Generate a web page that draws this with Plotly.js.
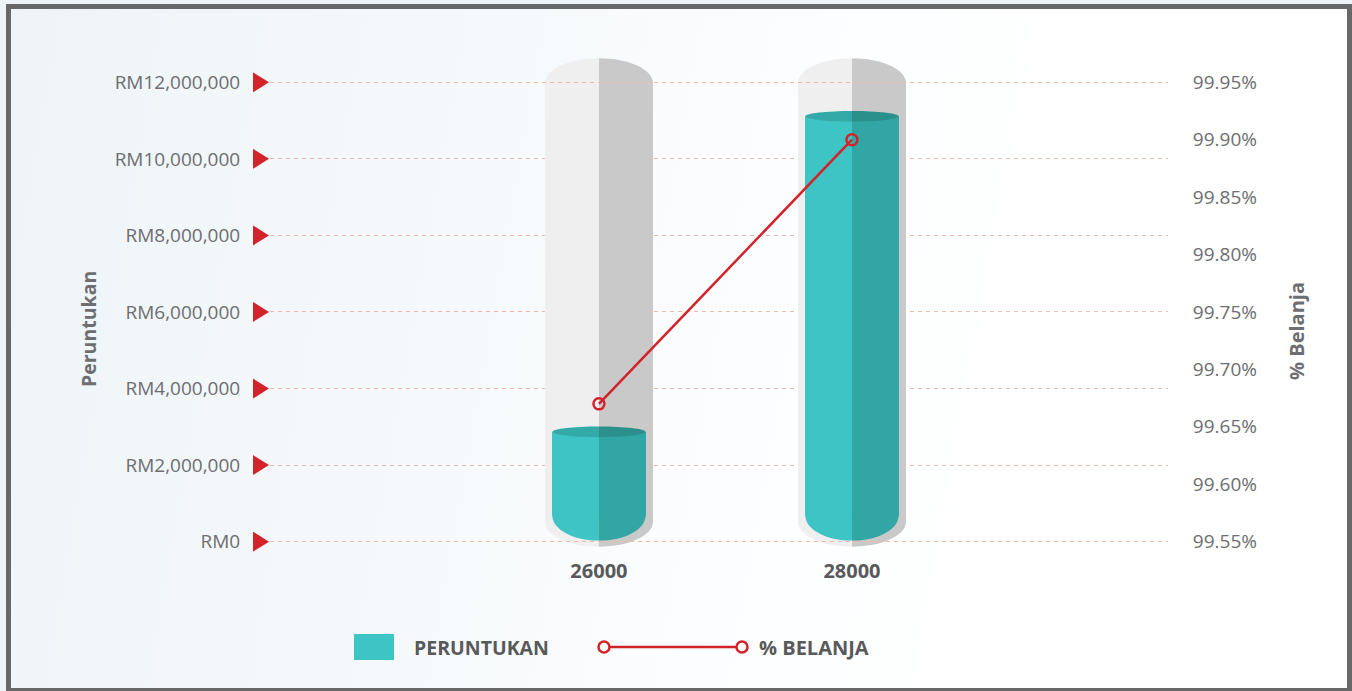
<!DOCTYPE html>
<html>
<head>
<meta charset="utf-8">
<script src="https://cdn.plot.ly/plotly-3.0.1.min.js"></script>
<style>
  html, body { margin: 0; padding: 0; width: 1352px; height: 691px; overflow: hidden; background: #eef3f7; }
  #frame {
    position: absolute; left: 6px; top: 4px; width: 1346px; height: 689px;
    box-sizing: border-box; border: 5px solid #686868;
    background: linear-gradient(100deg, #eef4f8 0%, #f6f9fb 35%, #fdfeff 60%, #ffffff 80%);
  }
  #chart { position: absolute; left: 0; top: 0; width: 1352px; height: 691px; }
</style>
</head>
<body>
<div id="frame"></div>
<div id="chart"></div>
<script>
// ---------------- DATA ----------------
const categories = ['26000', '28000'];
const peruntukan = [2870000, 11110000];          // RM
const belanja = [99.67, 99.90];                   // %
const leftTickVals = [0, 2000000, 4000000, 6000000, 8000000, 10000000, 12000000];
const leftTickText = ['RM0', 'RM2,000,000', 'RM4,000,000', 'RM6,000,000', 'RM8,000,000', 'RM10,000,000', 'RM12,000,000'];
const rightTickVals = [99.55, 99.60, 99.65, 99.70, 99.75, 99.80, 99.85, 99.90, 99.95];
const rightTickText = ['99.55%', '99.60%', '99.65%', '99.70%', '99.75%', '99.80%', '99.85%', '99.90%', '99.95%'];
const axisTitles = ['Peruntukan', '% Belanja'];
const legendLabels = ['PERUNTUKAN', '% BELANJA'];

// ---------------- STYLE ----------------
const TEAL_L = '#3ec4c4', TEAL_R = '#31a6a5', FACE_L = '#34aaa8', FACE_R = '#2b8f8b';
const GRAY_L = '#efefef', GRAY_R = '#c9c9c9';
const RED = '#d2232a';
const LABEL = '#6d6e71', DARK = '#58595b';
const FONT = 'Open Sans, Noto Sans, sans-serif';

const X_RANGE = [-1.3, 2.249];
const Y_RANGE = [-400000, 13000000];
const Y2_BASE = rightTickVals[0], Y2_SLOPE = (rightTickVals[rightTickVals.length - 1] - rightTickVals[0]) / leftTickVals[leftTickVals.length - 1];
const Y2_RANGE = Y_RANGE.map(v => Y2_BASE + v * Y2_SLOPE);

const GRAY_W = 0.427, TEAL_W = 0.368;
const CAP_RY = 650000, FACE_RY = 140000;
const GRAY_BOTTOM = -130000;
const GRAY_TOP = leftTickVals[leftTickVals.length - 1] + 630000;
const TEAL_BOTTOM = 30000;
const K = 0.5523;

const M = { l: 270, r: 184, t: 44, b: 134 };
const PW = 1352 - M.l - M.r, PH = 691 - M.t - M.b;
const px = v => (v - M.l) / PW;
const py = v => (691 - M.b - v) / PH;
const DATA_PER_PX = (Y_RANGE[1] - Y_RANGE[0]) / PH;

const xPos = categories.map((_, i) => i);

// ---------------- TRACES ----------------
const grayBase = GRAY_BOTTOM + CAP_RY, grayTopC = GRAY_TOP - CAP_RY;
const tealBase = TEAL_BOTTOM + CAP_RY;

function halfBar(name, y, base, w, side, color) {
  return {
    type: 'bar', x: xPos, y: y, base: base, width: xPos.map(() => w / 2),
    offset: xPos.map(() => side < 0 ? -w / 2 : 0),
    marker: { color: color, line: { width: 0 } },
    hoverinfo: 'skip', showlegend: false, name: name
  };
}

const traces = [
  halfBar('bgL', xPos.map(() => grayTopC - grayBase), xPos.map(() => grayBase), GRAY_W, -1, GRAY_L),
  halfBar('bgR', xPos.map(() => grayTopC - grayBase), xPos.map(() => grayBase), GRAY_W, 1, GRAY_R),
  halfBar('PERUNTUKAN L', peruntukan.map(v => v - tealBase), xPos.map(() => tealBase), TEAL_W, -1, TEAL_L),
  halfBar('PERUNTUKAN R', peruntukan.map(v => v - tealBase), xPos.map(() => tealBase), TEAL_W, 1, TEAL_R),
  {
    type: 'scatter', mode: 'lines+markers', name: '% BELANJA', x: xPos, y: belanja, yaxis: 'y2',
    line: { color: RED, width: 2.5 },
    marker: { symbol: 'circle-open', size: 11, color: RED, line: { width: 2.5, color: RED } },
    showlegend: false, hovertemplate: '%{y:.2f}%<extra></extra>'
  }
];

// ---------------- SHAPES (cylinder caps) ----------------
function wedge(cx, rx, yc, ry, side, dir, eps) {
  const sx = cx + side * rx;
  const y0 = yc - dir * eps;
  return `M ${cx},${y0} L ${sx},${y0} L ${sx},${yc} ` +
    `C ${sx},${yc + dir * K * ry} ${cx + side * K * rx},${yc + dir * ry} ${cx},${yc + dir * ry} Z`;
}
function halfEllipse(cx, rx, yc, ry, side) {
  const sx = cx + side * rx;
  return `M ${cx},${yc + ry} C ${cx + side * K * rx},${yc + ry} ${sx},${yc + K * ry} ${sx},${yc} ` +
    `C ${sx},${yc - K * ry} ${cx + side * K * rx},${yc - ry} ${cx},${yc - ry} Z`;
}
const shapes = [];
xPos.forEach((cx, i) => {
  [[-1, GRAY_L], [1, GRAY_R]].forEach(([s, c]) => {
    shapes.push({ type: 'path', xref: 'x', yref: 'y', layer: 'below', line: { width: 0 }, fillcolor: c,
      path: wedge(cx, GRAY_W / 2, grayBase, CAP_RY, s, -1, 80000) });
    shapes.push({ type: 'path', xref: 'x', yref: 'y', layer: 'below', line: { width: 0 }, fillcolor: c,
      path: wedge(cx, GRAY_W / 2, grayTopC, CAP_RY, s, 1, 80000) });
  });
  [[-1, TEAL_L, FACE_L], [1, TEAL_R, FACE_R]].forEach(([s, c, f]) => {
    shapes.push({ type: 'path', xref: 'x', yref: 'y', layer: 'above', line: { width: 0 }, fillcolor: c,
      path: wedge(cx, TEAL_W / 2, tealBase, CAP_RY, s, -1, 60000) });
    shapes.push({ type: 'path', xref: 'x', yref: 'y', layer: 'above', line: { width: 0 }, fillcolor: f,
      path: halfEllipse(cx, TEAL_W / 2, peruntukan[i], FACE_RY, s) });
  });
});

// red tick triangles (left axis), placed just left of the plot area at each tick value
const TRI_H = 10 * DATA_PER_PX;
leftTickVals.forEach(v => {
  shapes.push({ type: 'path', xref: 'paper', yref: 'y', layer: 'above', line: { width: 0 }, fillcolor: RED,
    path: `M ${px(253)},${v + TRI_H} L ${px(269)},${v} L ${px(253)},${v - TRI_H} Z` });
});

// ---------------- CUSTOM LEGEND (paper coords) ----------------
const LEG_Y = 647;
shapes.push({ type: 'rect', xref: 'paper', yref: 'paper', x0: px(354), x1: px(394), y0: py(660), y1: py(634),
  fillcolor: TEAL_L, line: { width: 0 } });
shapes.push({ type: 'line', xref: 'paper', yref: 'paper', x0: px(604), x1: px(742), y0: py(LEG_Y), y1: py(LEG_Y),
  line: { color: RED, width: 2.5 } });
[604, 742].forEach(cxp => {
  shapes.push({ type: 'circle', xref: 'paper', yref: 'paper', x0: px(cxp - 5.5), x1: px(cxp + 5.5), y0: py(LEG_Y + 5.5), y1: py(LEG_Y - 5.5),
    fillcolor: '#ffffff', line: { color: RED, width: 2.5 } });
});
const annotations = [
  { xref: 'paper', yref: 'paper', x: px(412), y: py(LEG_Y), xanchor: 'left', yanchor: 'middle', showarrow: false,
    text: '<b>' + legendLabels[0] + '</b>', font: { family: FONT, size: 19.5, color: DARK } },
  { xref: 'paper', yref: 'paper', x: px(757), y: py(LEG_Y), xanchor: 'left', yanchor: 'middle', showarrow: false,
    text: '<b>' + legendLabels[1] + '</b>', font: { family: FONT, size: 20, color: DARK } },
  { xref: 'paper', yref: 'paper', x: px(88), y: py(329), xanchor: 'center', yanchor: 'middle', showarrow: false,
    textangle: -90, text: '<b>' + axisTitles[0] + '</b>', font: { family: FONT, size: 19.5, color: LABEL } },
  { xref: 'paper', yref: 'paper', x: px(1296), y: py(331), xanchor: 'center', yanchor: 'middle', showarrow: false,
    textangle: -90, text: '<b>' + axisTitles[1] + '</b>', font: { family: FONT, size: 20, color: LABEL } }
];

const layout = {
  width: 1352, height: 691, margin: M,
  paper_bgcolor: 'rgba(0,0,0,0)', plot_bgcolor: 'rgba(0,0,0,0)',
  font: { family: FONT, color: LABEL },
  barmode: 'overlay', bargap: 0,
  showlegend: false,
  xaxis: {
    range: X_RANGE, tickvals: xPos, ticktext: categories.map(c => '<b>' + c + '</b>'),
    showgrid: false, zeroline: false, showline: false, ticks: '',
    tickfont: { family: FONT, size: 20, color: DARK }, fixedrange: true
  },
  yaxis: {
    range: Y_RANGE, tickvals: leftTickVals, ticktext: leftTickText,
    showgrid: true, gridcolor: '#f2b8a5', griddash: '4px,4px', gridwidth: 1,
    zeroline: false, showline: false, ticks: 'outside', ticklen: 25, tickcolor: 'rgba(0,0,0,0)',
    tickfont: { family: FONT, size: 19, color: LABEL }
  },
  yaxis2: {
    overlaying: 'y', side: 'right', range: Y2_RANGE, tickvals: rightTickVals, ticktext: rightTickText,
    showgrid: false, zeroline: false, showline: false, ticks: 'outside', ticklen: 20, tickcolor: 'rgba(0,0,0,0)',
    tickfont: { family: FONT, size: 19, color: LABEL }
  },
  shapes: shapes,
  annotations: annotations
};

Plotly.newPlot('chart', traces, layout, { displayModeBar: false, staticPlot: true });
</script>
</body>
</html>
